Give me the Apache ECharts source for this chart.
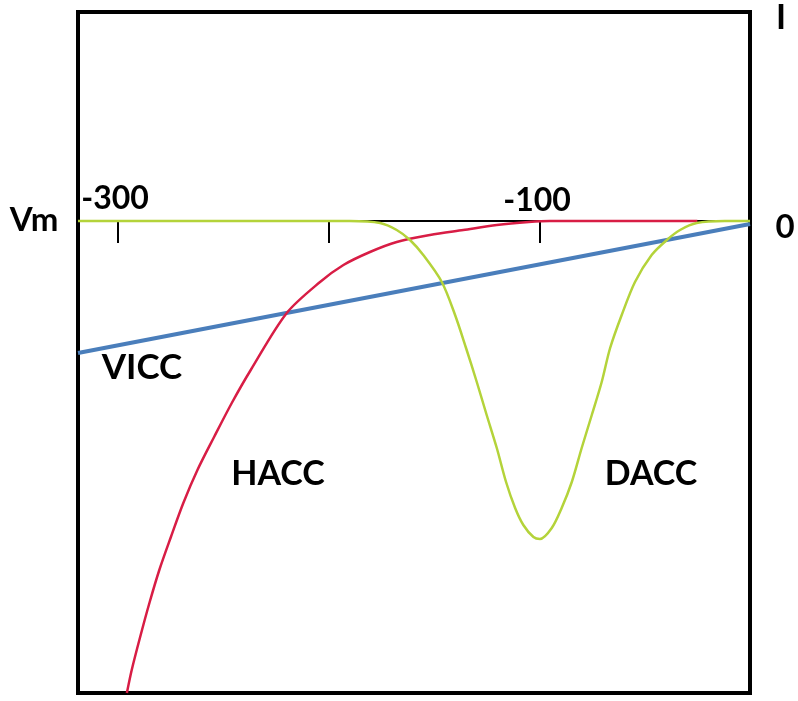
<!DOCTYPE html>
<html>
<head>
    <meta charset="utf-8">
    <title></title>
    <style>
        body{ margin: 0; background: #fff; }
        #main{ width: 798px; height: 701px; }
    </style>
    <script src="https://cdn.jsdelivr.net/npm/echarts@6/dist/echarts.min.js"></script>
</head>
<body>
<div id="main"></div>
<script>
    // membrane voltage ticks (mV) and the ones that carry a label
    var vmTicks = [-300, -200, -100];
    var vmLabels = [-300, -100];

    // VICC: straight line
    var viccV = [-319, 0];
    var viccI = [-1.32, -0.03];

    // HACC: rises steeply from the bottom, flat near 0 above ~ -110 mV
    var haccV = [-295.8, -293.5, -289.5, -285.1, -280.4, -274.9, -269.0, -262.3, -254.4, -246.0,
                 -237.0, -219.9, -204.1, -193.0, -180.4, -167.7, -151.9, -136.1, -120.2,
                 -105, -95, -60, -25];
    var haccI = [-4.72, -4.49, -4.16, -3.82, -3.49, -3.16, -2.82, -2.49, -2.16, -1.82,
                 -1.49, -0.92, -0.61, -0.44, -0.31, -0.21, -0.14, -0.09, -0.04,
                 -0.01, 0, 0, 0];

    // DACC: dip centred around -100 mV
    var daccV = [-319, -250, -190, -175.6, -167.7, -161.4, -155.1, -146.3, -140.0, -134.8, -129.7,
                 -125.0, -120.2, -115.8, -111.5, -107.6, -102.8, -99.7, -94.1, -89.4, -84.6,
                 -79.9, -75.1, -70.4, -66.4, -60.9, -54.6, -46.7, -39.5, -33.2, -25.3, -12, 0];
    var daccI = [0, 0, 0, -0.02, -0.09, -0.19, -0.34, -0.61, -0.94, -1.27, -1.61,
                 -1.94, -2.27, -2.61, -2.87, -3.04, -3.16, -3.18, -3.07, -2.87, -2.61,
                 -2.27, -1.94, -1.61, -1.27, -0.94, -0.61, -0.34, -0.19, -0.09, -0.02, 0, 0];

    function pairs(xs, ys){
        var out = [];
        for(var i=0;i<xs.length;i++){
            out.push([xs[i], ys[i]]);
        }
        return out;
    }

    var font = 'Lato';
    // centred text
    function txt(str, x, y, size){
        return {
            type: 'text', x: x, y: y,
            style: {
                text: str, font: 'bold ' + size + 'px ' + font, fill: '#000',
                align: 'center', verticalAlign: 'middle'
            }
        };
    }

    var chart = echarts.init(document.getElementById('main'));
    var option = {
        animation: false,
        grid: {
            left: 78, right: 48, top: 12, bottom: 8,
            show: true, borderColor: '#000', borderWidth: 4,
            backgroundColor: 'transparent'
        },
        xAxis: {
            type: 'value', min: -319, max: 0,
            axisLine: { onZero: true, lineStyle: { color: '#000', width: 2 } },
            axisTick: { show: true, customValues: vmTicks, length: 22, lineStyle: { color: '#000', width: 2 } },
            axisLabel: { show: false },
            splitLine: { show: false }
        },
        yAxis: {
            type: 'value', min: -4.72, max: 2.09, show: false
        },
        graphic: [
            txt('Vm', 34, 220, 33),
            txt(String(vmLabels[0]), 115, 199, 32),
            txt(String(vmLabels[1]), 537, 201, 32),
            txt('0', 785, 227, 33),
            txt('I', 781, 18, 34),
            txt('VICC', 142, 368, 35),
            txt('HACC', 278, 474, 34),
            txt('DACC', 651, 474, 34)
        ],
        series: [
            {
                name: 'VICC', type: 'line', showSymbol: false,
                data: pairs(viccV, viccI),
                lineStyle: { color: '#4a7ebb', width: 4 }, z: 3
            },
            {
                name: 'HACC', type: 'line', showSymbol: false, smooth: 0.3,
                data: pairs(haccV, haccI),
                lineStyle: { color: '#d81d45', width: 2.5, join: 'round' }, z: 4
            },
            {
                name: 'DACC', type: 'line', showSymbol: false, smooth: 0.3,
                data: pairs(daccV, daccI),
                lineStyle: { color: '#b4d33a', width: 2.5, join: 'round' }, z: 5
            }
        ]
    };
    chart.setOption(option);
</script>
</body>
</html>
